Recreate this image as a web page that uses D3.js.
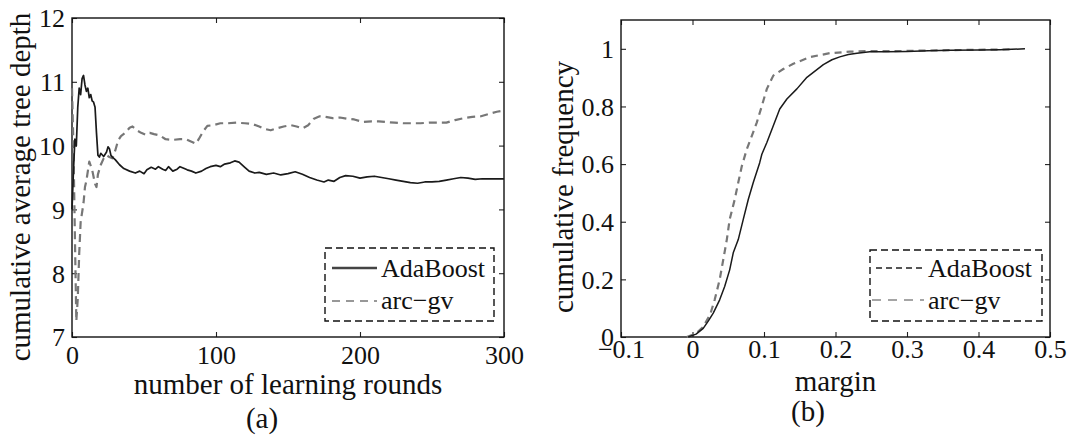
<!DOCTYPE html>
<html>
<head>
<meta charset="utf-8">
<script src="https://cdn.jsdelivr.net/npm/d3@7"></script>
<style>
  body { margin: 0; background: #fff; }
  svg { display: block; }
</style>
</head>
<body>
<svg id="chart" width="1071" height="436"></svg>
<script>
// ---------- Panel (a): cumulative average tree depth ----------
const roundsAda = [0,1,2,3,4,5,6,7,8,9,10,11,12,13,14,15,16,17,18,19,20,22,24,25,26,27,28,30,33,36,40,44,47,50,52,55,58,60,63,65,67,70,73,75,78,80,83,86,90,93,96,100,103,106,110,113,116,120,123,127,130,135,140,145,150,155,160,165,170,175,178,182,186,190,195,200,205,210,215,220,225,230,235,240,245,250,255,260,265,270,275,280,285,290,295,300];
const depthAda = [9.0,9.6,10.1,10.0,10.6,10.9,10.8,11.05,11.1,10.95,10.85,10.9,10.75,10.8,10.7,10.68,10.6,10.2,9.85,9.82,9.88,9.83,9.9,9.98,9.95,9.85,9.82,9.78,9.7,9.64,9.6,9.57,9.6,9.56,9.62,9.66,9.63,9.67,9.63,9.61,9.67,9.6,9.63,9.67,9.64,9.62,9.6,9.57,9.6,9.64,9.67,9.69,9.67,9.71,9.73,9.76,9.74,9.66,9.6,9.57,9.58,9.55,9.57,9.54,9.56,9.59,9.55,9.5,9.46,9.43,9.46,9.44,9.5,9.53,9.52,9.49,9.51,9.52,9.5,9.48,9.46,9.44,9.42,9.41,9.43,9.43,9.44,9.46,9.48,9.5,9.49,9.47,9.48,9.48,9.48,9.48];
const roundsArc = [0,1,2,3,4,5,6,8,9,10,12,14,16,17,18,20,22,24,26,28,30,32,34,37,40,42,45,48,51,54,57,61,65,70,75,79,83,86,88,91,94,98,103,108,114,120,125,130,134,138,142,147,152,156,160,164,168,172,176,181,186,191,196,202,208,213,218,224,230,236,242,248,254,260,266,272,278,284,290,295,300];
const depthArc = [10.9,10.0,8.6,7.25,7.6,8.3,8.8,9.1,9.35,9.45,9.75,9.62,9.4,9.35,9.55,9.7,9.8,9.85,9.82,9.8,9.92,10.08,10.15,10.2,10.28,10.3,10.24,10.2,10.17,10.2,10.18,10.16,10.1,10.09,10.1,10.1,10.06,10.03,10.1,10.22,10.31,10.32,10.35,10.35,10.36,10.35,10.34,10.3,10.26,10.24,10.27,10.3,10.32,10.3,10.27,10.32,10.42,10.46,10.45,10.43,10.44,10.42,10.41,10.37,10.38,10.38,10.37,10.36,10.35,10.35,10.35,10.36,10.36,10.36,10.4,10.43,10.45,10.46,10.5,10.53,10.55];
const roundTicks = [0,100,200,300];
const depthTicks = [7,8,9,10,11,12];

// ---------- Panel (b): cumulative margin distribution ----------
const marginAda = [-0.006,0.005,0.015,0.022,0.029,0.038,0.045,0.052,0.057,0.064,0.071,0.078,0.085,0.094,0.097,0.104,0.113,0.122,0.132,0.146,0.160,0.169,0.183,0.195,0.206,0.218,0.230,0.248,0.27,0.3,0.33,0.36,0.4,0.43,0.465];
const freqAda   = [0,0.01,0.03,0.055,0.083,0.129,0.175,0.233,0.292,0.338,0.408,0.477,0.536,0.605,0.634,0.675,0.733,0.791,0.826,0.861,0.901,0.918,0.945,0.962,0.972,0.98,0.985,0.99,0.99,0.991,0.993,0.995,0.996,0.997,1.0];
const marginArc = [-0.008,0.005,0.015,0.025,0.031,0.038,0.043,0.048,0.052,0.059,0.064,0.069,0.076,0.083,0.090,0.097,0.104,0.113,0.127,0.141,0.164,0.192,0.220,0.244,0.28,0.33,0.38,0.445];
const freqArc   = [0,0.012,0.035,0.08,0.129,0.199,0.268,0.338,0.408,0.477,0.536,0.593,0.652,0.698,0.745,0.802,0.861,0.907,0.930,0.948,0.971,0.985,0.99,0.992,0.992,0.994,0.996,0.998];
const marginTicks = [-0.1,0,0.1,0.2,0.3,0.4,0.5];
const freqTicks = [0,0.2,0.4,0.6,0.8,1];

const legendNames = ["AdaBoost","arc\u2212gv"];

const svg = d3.select("#chart");
const FONT = '"Liberation Serif", "Times New Roman", Times, serif';
const TICK_FS = 26, LABEL_FS = 29;

function styleText(sel, fs) {
  return sel.style("font-family", FONT).style("font-size", fs + "px").style("fill", "#111");
}

function panel(cfg) {
  const g = svg.append("g");
  const x = d3.scaleLinear().domain(cfg.xDomain).range([cfg.left, cfg.right]);
  const y = d3.scaleLinear().domain(cfg.yDomain).range([cfg.bottom, cfg.top]);
  const tl = 5;

  const axB = g.append("g").attr("transform", `translate(0,${cfg.bottom})`)
    .call(d3.axisBottom(x).tickValues(cfg.xTicks).tickSize(-tl).tickPadding(0).tickFormat(cfg.fmtX));
  const axT = g.append("g").attr("transform", `translate(0,${cfg.top})`)
    .call(d3.axisTop(x).tickValues(cfg.xTicks).tickSize(-tl).tickFormat(""));
  const axL = g.append("g").attr("transform", `translate(${cfg.left},0)`)
    .call(d3.axisLeft(y).tickValues(cfg.yTicks).tickSize(-tl).tickPadding(0).tickFormat(cfg.fmtY));
  const axR = g.append("g").attr("transform", `translate(${cfg.right},0)`)
    .call(d3.axisRight(y).tickValues(cfg.yTicks).tickSize(-tl).tickFormat(""));
  [axB, axT, axL, axR].forEach(a => {
    a.select(".domain").remove();
    a.selectAll(".tick line").attr("stroke", "#222").attr("stroke-width", 1.1);
  });
  styleText(axB.selectAll(".tick text"), TICK_FS)
    .attr("y", cfg.xTickBaseline - cfg.bottom).attr("dy", null);
  styleText(axL.selectAll(".tick text"), TICK_FS)
    .attr("x", -7).attr("dy", "0.34em");

  g.append("rect").attr("x", cfg.left).attr("y", cfg.top)
    .attr("width", cfg.right - cfg.left).attr("height", cfg.bottom - cfg.top)
    .attr("fill", "none").attr("stroke", "#111").attr("stroke-width", 1.4);

  const line = d3.line().x(d => x(d[0])).y(d => y(d[1]));
  cfg.series.forEach(s => {
    g.append("path").datum(d3.zip(s.xs, s.ys))
      .attr("d", line).attr("fill", "none")
      .attr("stroke", s.color).attr("stroke-width", s.width)
      .attr("stroke-dasharray", s.dash || null)
      .attr("stroke-linejoin", "round");
  });

  styleText(g.append("text"), LABEL_FS).attr("x", (cfg.left + cfg.right) / 2).attr("y", cfg.xLabelBaseline)
    .attr("text-anchor", "middle").text(cfg.xLabel);
  styleText(g.append("text"), LABEL_FS).attr("transform", `translate(${cfg.yLabelX},${cfg.yLabelY}) rotate(-90)`)
    .attr("text-anchor", "middle").text(cfg.yLabel);
  styleText(g.append("text"), LABEL_FS).attr("x", cfg.capX).attr("y", cfg.capY)
    .attr("text-anchor", "middle").text(cfg.caption);

  const L = cfg.legend;
  g.append("rect").attr("x", L.x0).attr("y", L.y0).attr("width", L.x1 - L.x0).attr("height", L.y1 - L.y0)
    .attr("fill", "#fff").attr("stroke", "#111").attr("stroke-width", 1.4).attr("stroke-dasharray", "7,4");
  L.items.forEach(it => {
    g.append("line").attr("x1", it.lx0).attr("x2", it.lx1).attr("y1", it.ly).attr("y2", it.ly)
      .attr("stroke", it.color).attr("stroke-width", it.width).attr("stroke-dasharray", it.dash || null);
    styleText(g.append("text"), TICK_FS).attr("x", it.tx).attr("y", it.ty).text(it.name);
  });
}

panel({
  left: 72, right: 504, top: 18, bottom: 337,
  xDomain: [0, 300], yDomain: [7, 12],
  xTicks: roundTicks, yTicks: depthTicks,
  fmtX: d3.format("d"), fmtY: d3.format("d"),
  xTickBaseline: 364,
  xLabel: "number of learning rounds", xLabelBaseline: 394,
  yLabel: "cumulative average tree depth", yLabelX: 30, yLabelY: 187,
  caption: "(a)", capX: 262, capY: 428,
  series: [
    { xs: roundsArc, ys: depthArc, color: "#777", width: 2.2, dash: "8,5" },
    { xs: roundsAda, ys: depthAda, color: "#1a1a1a", width: 1.7 }
  ],
  legend: {
    x0: 325, x1: 494, y0: 248, y1: 321,
    items: [
      { name: legendNames[0], lx0: 332, lx1: 377, ly: 268, tx: 381, ty: 277, color: "#444", width: 2.4 },
      { name: legendNames[1], lx0: 332, lx1: 377, ly: 301, tx: 381, ty: 309, color: "#777", width: 1.7, dash: "8,6" }
    ]
  }
});

panel({
  left: 621, right: 1050, top: 20, bottom: 337,
  xDomain: [-0.1, 0.5], yDomain: [0, 1.1],
  xTicks: marginTicks, yTicks: freqTicks,
  fmtX: d => (d === 0 ? "0" : d3.format(".1f")(d).replace("-", "\u2212")),
  fmtY: d => (d === 0 || d === 1) ? String(d) : d3.format(".1f")(d),
  xTickBaseline: 358,
  xLabel: "margin", xLabelBaseline: 391,
  yLabel: "cumulative frequency", yLabelX: 573, yLabelY: 187,
  caption: "(b)", capX: 808, capY: 421,
  series: [
    { xs: marginArc, ys: freqArc, color: "#777", width: 2.2, dash: "7,5" },
    { xs: marginAda, ys: freqAda, color: "#1a1a1a", width: 1.5 }
  ],
  legend: {
    x0: 870, x1: 1042, y0: 250, y1: 321,
    items: [
      { name: legendNames[0], lx0: 876, lx1: 924, ly: 268, tx: 928, ty: 277, color: "#555", width: 1.9, dash: "6,4" },
      { name: legendNames[1], lx0: 872, lx1: 924, ly: 300, tx: 928, ty: 309, color: "#888", width: 1.7, dash: "9,7" }
    ]
  }
});
</script>
</body>
</html>
